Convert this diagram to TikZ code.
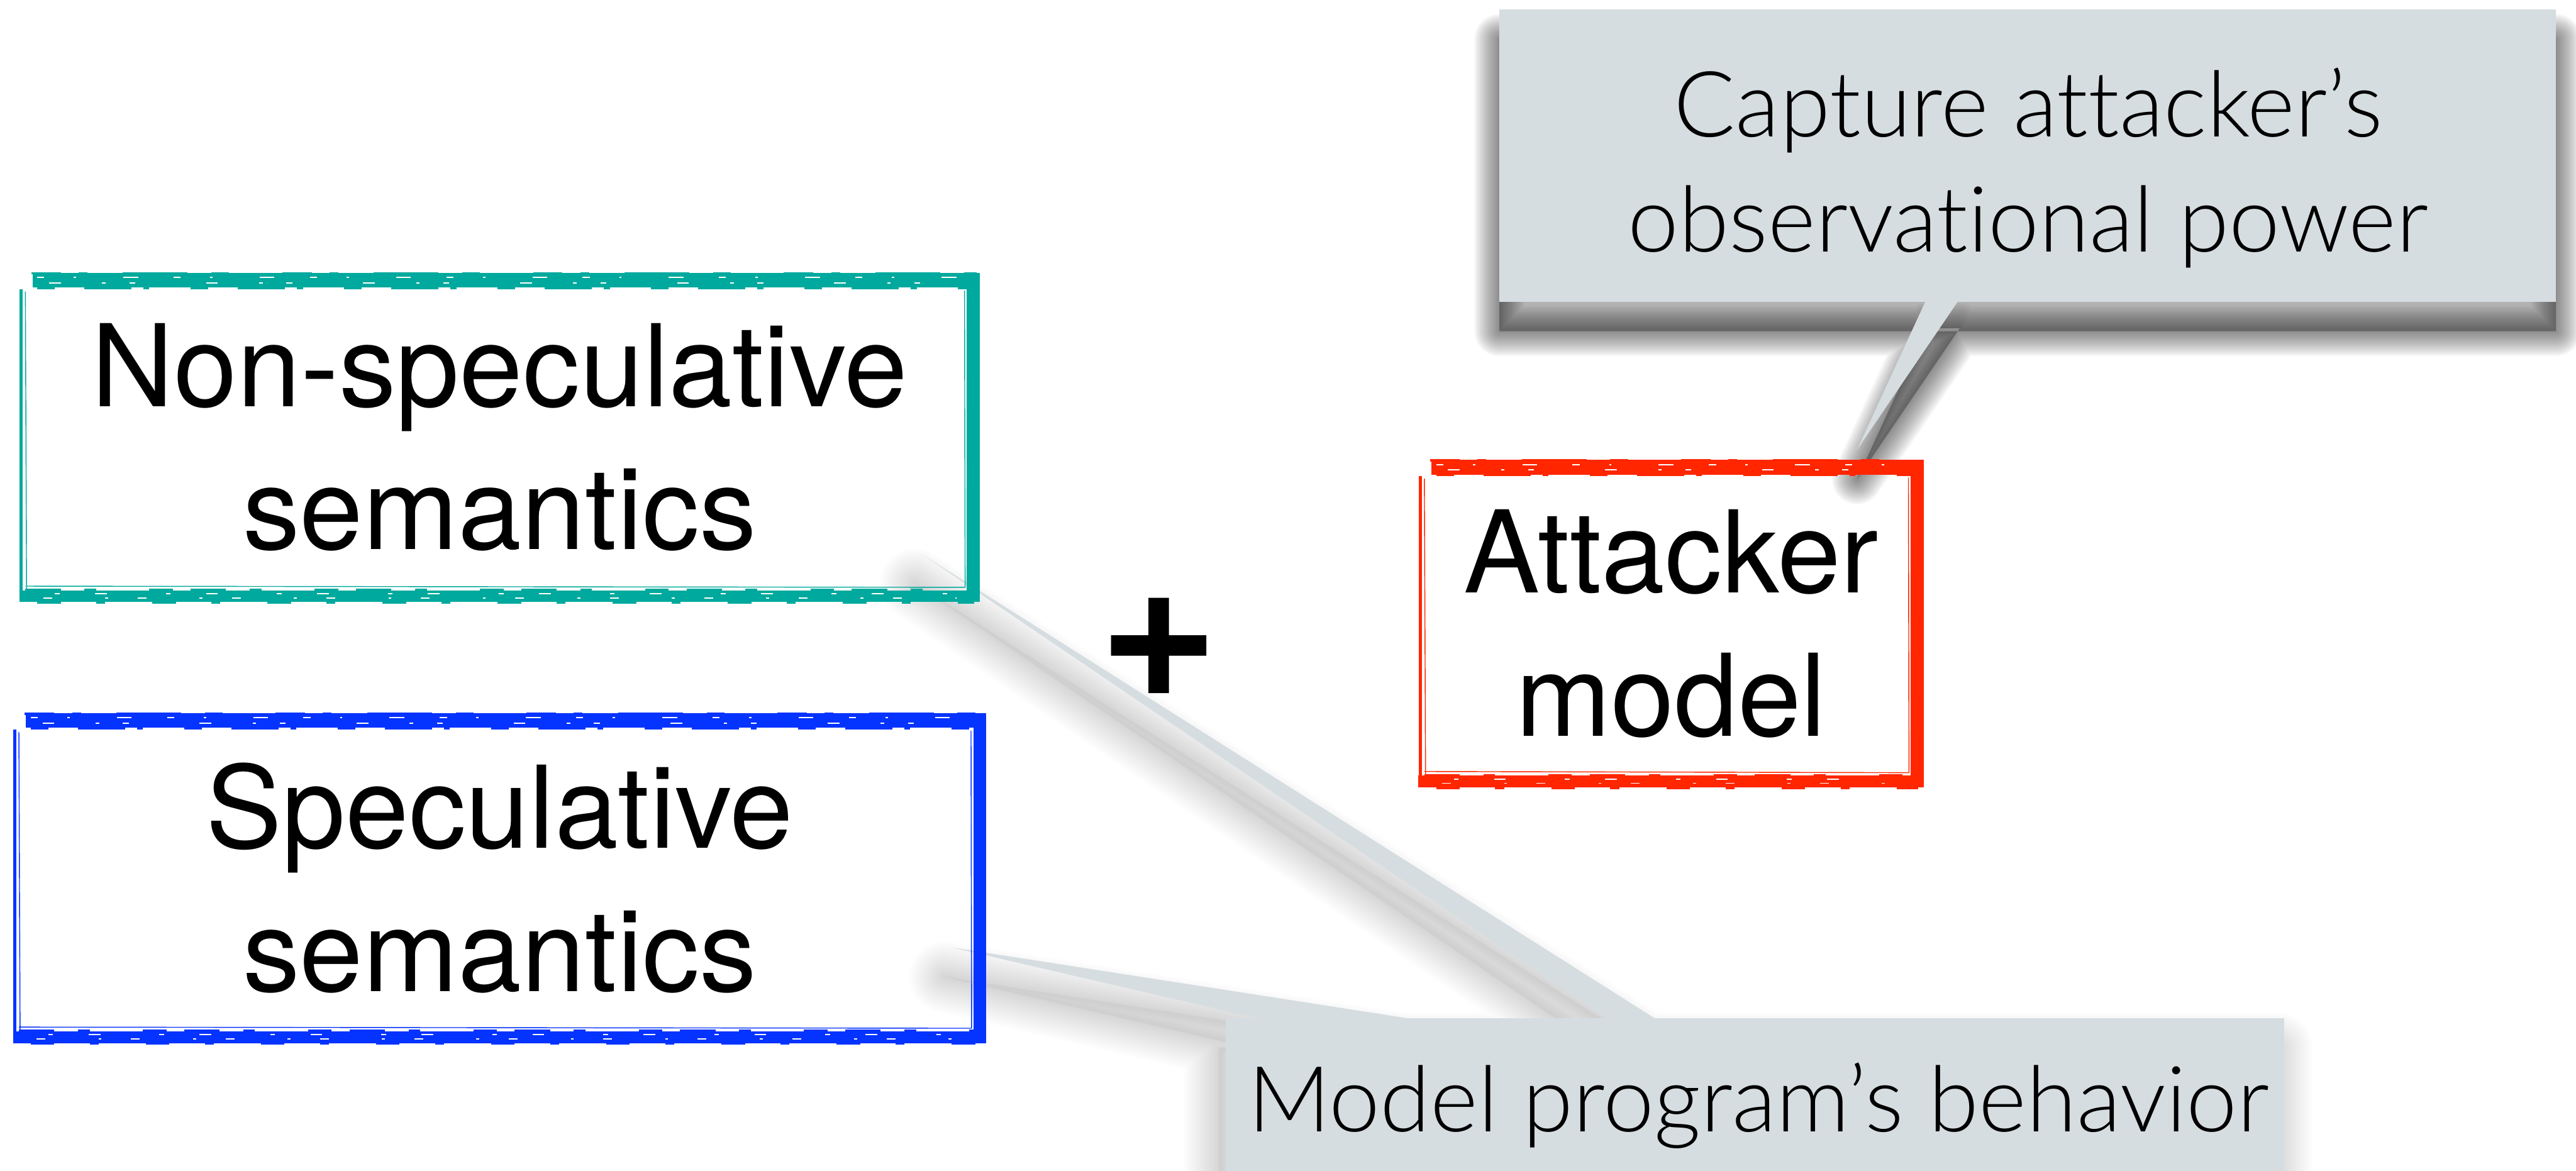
\documentclass[tikz,border=0pt]{standalone}
\usepackage{fontspec}
\setmainfont{TeX Gyre Heros}
\newfontfamily\calloutfont{Lato Light}[Ligatures=NoCommon]
\usetikzlibrary{calc}

\definecolor{frameteal}{RGB}{0,169,157}
\definecolor{frameblue}{RGB}{5,51,255}
\definecolor{framered}{RGB}{255,38,0}
\definecolor{calloutgrey}{RGB}{214,221,225}

\pgfdeclarelayer{shade}
\pgfdeclarelayer{callout}
\pgfsetlayers{shade,callout,main}

\tikzset{
  boxlabel/.style={inner sep=0pt, outer sep=0pt, align=center,
    font=\fontsize{55}{68.9}\selectfont},
  callbox/.style={fill=calloutgrey, inner sep=0pt, outer sep=0pt},
  calltext/.style={inner sep=0pt, align=center,
    font=\calloutfont\fontsize{44}{55.5}\selectfont},
  plussign/.style={inner sep=0pt, font=\fontsize{99}{99}\bfseries\selectfont},
}

% Hand-brushed frame around a node: heavy top/right/bottom strokes,
% a light left stroke, thin inner strokes and a ragged, speckled edge.
\newcommand\brushframe[2]{%
  \begin{scope}[color=#2, line cap=butt]
    \draw[line width=0.25cm] ($(#1.north west)+(0.22,-0.125)$) -- ($(#1.north east)+(0,-0.125)$);
    \draw[line width=0.22cm] ($(#1.north east)+(-0.11,0)$) -- ($(#1.south east)+(-0.11,0)$);
    \draw[line width=0.20cm] ($(#1.south east)+(0,0.10)$) -- ($(#1.south west)+(0,0.10)$);
    \draw[line width=0.05cm] ($(#1.south west)+(0.03,0)$) -- ($(#1.north west)+(0.03,-0.28)$);
    \draw[line width=0.015cm] ($(#1.south west)+(0.12,0.22)$) -- ($(#1.north west)+(0.10,-0.32)$);
    \draw[line width=0.015cm] ($(#1.north east)+(-0.26,-0.30)$) -- ($(#1.south east)+(-0.25,0.25)$);
    \draw[line width=0.015cm] ($(#1.south east)+(-0.25,0.25)$) -- ($(#1.south west)+(0.10,0.27)$);
    \draw[line width=0.04cm, dash pattern=on 0.5cm off 0.3cm on 0.15cm off 0.6cm on 1.1cm off 0.4cm on 0.3cm off 0.9cm]
      ($(#1.north west)+(0.20,-0.01)$) -- ($(#1.north east)+(-0.05,-0.01)$);
    \draw[line width=0.04cm, dash pattern=on 0.3cm off 0.5cm on 0.8cm off 0.2cm on 0.1cm off 0.7cm]
      ($(#1.north west)+(0.30,-0.26)$) -- ($(#1.north east)+(-0.20,-0.26)$);
    \draw[line width=0.04cm, dash pattern=on 0.6cm off 0.4cm on 0.2cm off 0.9cm on 0.4cm off 0.3cm]
      ($(#1.south west)+(0.10,0.21)$) -- ($(#1.south east)+(-0.20,0.21)$);
    \draw[line width=0.04cm, dash pattern=on 0.4cm off 0.6cm on 0.15cm off 0.8cm]
      ($(#1.south west)+(0.30,-0.01)$) -- ($(#1.south east)+(-0.10,-0.01)$);
    \draw[white, line width=0.02cm, dash pattern=on 0.12cm off 0.5cm on 0.04cm off 0.8cm on 0.25cm off 0.6cm]
      ($(#1.north west)+(0.30,-0.08)$) -- ($(#1.north east)+(-0.30,-0.08)$);
    \draw[white, line width=0.02cm, dash pattern=on 0.2cm off 0.7cm on 0.06cm off 0.4cm on 0.1cm off 1.2cm]
      ($(#1.north west)+(0.50,-0.17)$) -- ($(#1.north east)+(-0.40,-0.17)$);
    \draw[white, line width=0.02cm, dash pattern=on 0.15cm off 0.9cm on 0.05cm off 0.5cm]
      ($(#1.south west)+(0.40,0.07)$) -- ($(#1.south east)+(-0.40,0.07)$);
    \draw[white, line width=0.02cm, dash pattern=on 0.08cm off 0.6cm on 0.2cm off 1.0cm]
      ($(#1.south west)+(0.60,0.14)$) -- ($(#1.south east)+(-0.50,0.14)$);
  \end{scope}}

% Soft drop shadow: a shifted copy of a path, stroked in #2 widening,
% faint layers so that it fades out towards its rim.
\newcommand\softshade[5]{%
  \begin{scope}[transform canvas={shift={#1}}]
    \foreach \k in {1,...,#2}{%
      \draw[black, line width=\k*0.06cm, draw opacity=#3, line join=round] #5;}
    \fill[black, fill opacity=#4] #5;
  \end{scope}}

\begin{document}
\begin{tikzpicture}
\useasboundingbox (0,0) rectangle (43.64,-19.83);
\clip (0,0) rectangle (43.64,-19.83);

% the three framed boxes
\node[boxlabel, minimum width=16.27cm, minimum height=5.58cm] (nonspec) at (8.465,-7.41) {Non-speculative\\semantics};
\node[boxlabel, minimum width=16.49cm, minimum height=5.59cm] (spec) at (8.465,-14.875) {Speculative\\semantics};
\node[boxlabel, minimum width=8.56cm, minimum height=5.55cm] (att) at (28.31,-10.565) {Attacker\\model};
\brushframe{nonspec}{frameteal}
\brushframe{spec}{frameblue}
\brushframe{att}{framered}

\node[plussign] (plus) at (19.63,-10.97) {+};

% callouts
\begin{pgfonlayer}{callout}
  \node[callbox, minimum width=17.90cm, minimum height=4.95cm] (obsbox) at (34.35,-2.635) {};
  \node[callbox, minimum width=17.93cm, minimum height=3.75cm] (progbox) at (29.735,-19.125) {};

  \coordinate (ob1) at ($(obsbox.south west)+(7.24,0.05)$);
  \coordinate (ob2) at ($(obsbox.south west)+(7.80,0.05)$);
  \coordinate (obtip) at ($(att.north)+(3.15,0.17)$);

  \coordinate (w1a) at ($(progbox.north west)+(6.51,-0.05)$);
  \coordinate (w1b) at ($(progbox.north west)+(7.34,-0.05)$);
  \coordinate (w1tip) at ($(nonspec.south east)+(-0.98,0.81)$);

  \coordinate (w2a) at ($(progbox.north west)+(0.74,-0.05)$);
  \coordinate (w2b) at ($(progbox.north west)+(3.40,-0.05)$);
  \coordinate (w2tip) at ($(spec.south east)+(-0.59,1.62)$);

  \fill[calloutgrey] (ob1) -- (obtip) -- (ob2) -- cycle;
  \fill[calloutgrey] (w1a) -- (w1tip) -- (w1b) -- cycle;
  \fill[calloutgrey] (w2a) -- (w2tip) -- (w2b) -- cycle;
\end{pgfonlayer}

\node[calltext] (obs) at ($(obsbox.center)+(0.01,-0.205)$) {Capture attacker’s\\observational power};
\node[calltext, anchor=base] (prog) at ($(progbox.north)+(0.055,-1.92)$) {Model program’s behavior};

% shadows under the callouts
\begin{pgfonlayer}{shade}
  \softshade{(0,-0.5)}{14}{0.04}{0.3}{(obsbox.south west) rectangle (obsbox.north east) (ob1) -- (obtip) -- (ob2) -- cycle}
  \softshade{(-0.12,-0.5)}{20}{0.008}{0.04}{(progbox.south west) rectangle (progbox.north east) (w1a) -- (w1tip) -- (w1b) -- cycle (w2a) -- (w2tip) -- (w2b) -- cycle}
\end{pgfonlayer}
\end{tikzpicture}
\end{document}
